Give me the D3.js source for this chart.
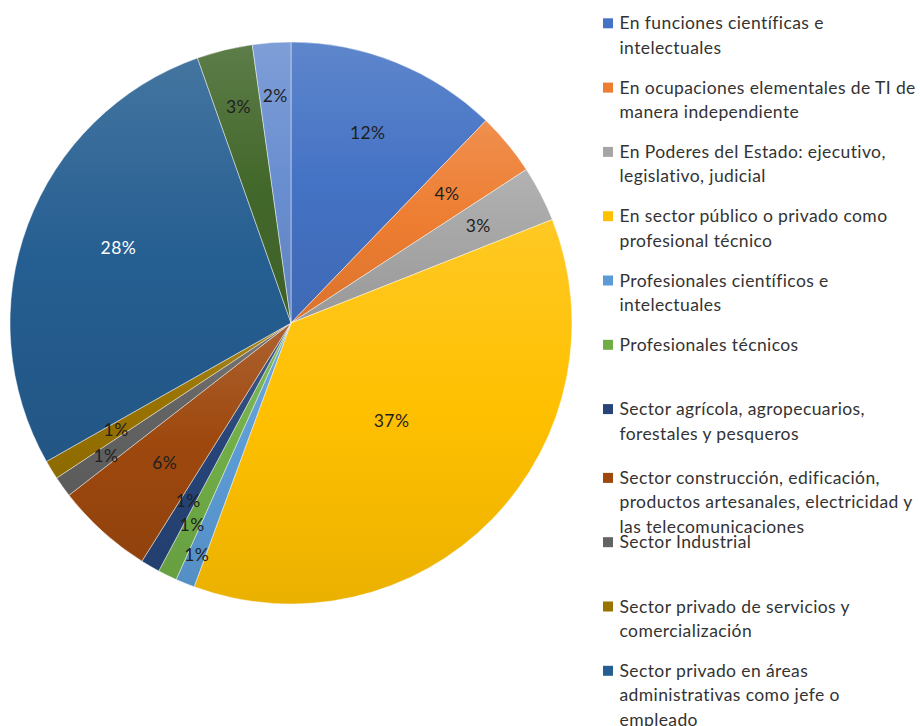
<!DOCTYPE html>
<html lang="es">
<head>
<meta charset="utf-8">
<script src="https://cdn.jsdelivr.net/npm/d3@7"></script>
<style>
  html, body { margin: 0; padding: 0; background: #ffffff; }
  svg { display: block; }
  text { font-family: Lato, "Open Sans", sans-serif; }
</style>
</head>
<body>
<svg id="chart" width="920" height="726"></svg>
<script>
// Ocupación de los egresados, por sector (porcentaje)
const categories = [
  "En funciones científicas e intelectuales",
  "En ocupaciones elementales de TI de manera independiente",
  "En Poderes del Estado: ejecutivo, legislativo, judicial",
  "En sector público o privado como profesional técnico",
  "Profesionales científicos e intelectuales",
  "Profesionales técnicos",
  "Sector agrícola, agropecuarios, forestales y pesqueros",
  "Sector construcción, edificación, productos artesanales, electricidad y las telecomunicaciones",
  "Sector Industrial",
  "Sector privado de servicios y comercialización",
  "Sector privado en áreas administrativas como jefe o empleado",
  "Otros",
  "No especifica"
];

// Legend text, broken into lines; the legend area holds the first eleven entries
const legendLines = [
  ["En funciones científicas e", "intelectuales"],
  ["En ocupaciones elementales de TI de", "manera independiente"],
  ["En Poderes del Estado: ejecutivo,", "legislativo, judicial"],
  ["En sector público o privado como", "profesional técnico"],
  ["Profesionales científicos e", "intelectuales"],
  ["Profesionales técnicos"],
  ["Sector agrícola, agropecuarios,", "forestales y pesqueros"],
  ["Sector construcción, edificación,", "productos artesanales, electricidad y", "las telecomunicaciones"],
  ["Sector Industrial"],
  ["Sector privado de servicios y", "comercialización"],
  ["Sector privado en áreas", "administrativas como jefe o", "empleado"]
];

const values = [12.2, 3.6, 3.2, 36.6, 1.1, 1.1, 1.1, 5.6, 1.2, 1.1, 27.8, 3.2, 2.2];

const colors = [
  "#4472C4", "#ED7D31", "#A5A5A5", "#FFC000", "#5B9BD5", "#70AD47",
  "#264478", "#9E480E", "#636363", "#997300", "#255E91", "#43682B", "#698ED0"
];

// Data-label placement: distance from centre as a fraction of the radius,
// plus a small angular nudge (degrees) for the best-fit positions
const labelRadius = [0.73, 0.72, 0.75, 0.50, 0.89, 0.80, 0.73, 0.67, 0.81, 0.73, 0.67, 0.79, 0.81];
const labelNudge  = [0, 0, 0, 0, 0, 0, 0, 0, 0, 0, 3, 0, 0];
const labelColors = colors.map((c, i) => i === 10 ? "#ffffff" : "#1f1f1f");

const svg = d3.select("#chart");
const cx = 291, cy = 323, R = 281;
const fontSize = 17.5, letterSpacing = 0.4;

const total = d3.sum(values);
const data = categories.map((name, i) => ({ name, value: values[i], color: colors[i], i }));

const pie = d3.pie().sort(null).value(d => d.value);
const arcs = pie(data);
const arc = d3.arc().innerRadius(0).outerRadius(R);

// Vertical gradient per slice: lighter at the top, deeper at the bottom
const defs = svg.append("defs");
data.forEach(d => {
  const g = defs.append("linearGradient")
    .attr("id", "grad" + d.i)
    .attr("x1", 0).attr("y1", 0).attr("x2", 0).attr("y2", 1);
  const base = d3.rgb(d.color);
  const top = d3.interpolateRgb(base, "#ffffff")(0.14);
  const bottom = d3.rgb(base.r * 0.92, base.g * 0.92, base.b * 0.92);
  g.append("stop").attr("offset", "0%").attr("stop-color", top);
  g.append("stop").attr("offset", "50%").attr("stop-color", base.formatHex());
  g.append("stop").attr("offset", "100%").attr("stop-color", bottom.formatHex());
});

const pieG = svg.append("g").attr("transform", `translate(${cx},${cy})`);

pieG.selectAll("path.slice")
  .data(arcs)
  .join("path")
  .attr("class", "slice")
  .attr("d", arc)
  .attr("fill", d => `url(#grad${d.data.i})`)
  .attr("stroke", "#ffffff")
  .attr("stroke-opacity", 0.55)
  .attr("stroke-width", 0.8);

// Percentage labels
const fmt = v => Math.round(v / total * 100) + "%";
pieG.selectAll("text.pct")
  .data(arcs)
  .join("text")
  .attr("class", "pct")
  .attr("text-anchor", "middle")
  .attr("font-size", fontSize)
  .attr("letter-spacing", letterSpacing)
  .attr("fill", d => labelColors[d.data.i])
  .attr("transform", d => {
    const a = (d.startAngle + d.endAngle) / 2 + labelNudge[d.data.i] * Math.PI / 180;
    const r = R * labelRadius[d.data.i];
    const x = Math.sin(a) * r;
    const y = -Math.cos(a) * r;
    return `translate(${x},${y + 6})`;
  })
  .text(d => fmt(d.data.value));

// Legend
const legendX = 603, legendTop = 23.3, pitch = 64.3, lineH = 24.5;
const legend = svg.append("g");
legendLines.forEach((lines, i) => {
  const d = data[i];
  const y0 = legendTop + i * pitch + (i >= 7 ? 4.5 : 0);
  const row = legend.append("g");
  row.append("rect")
    .attr("x", legendX).attr("y", y0 - 5)
    .attr("width", 10).attr("height", 10)
    .attr("fill", d.color);
  lines.forEach((line, k) => {
    row.append("text")
      .attr("x", legendX + 16.5)
      .attr("y", y0 + k * lineH + 6)
      .attr("font-size", fontSize)
      .attr("letter-spacing", letterSpacing)
      .attr("fill", "#333333")
      .text(line);
  });
});
</script>
</body>
</html>
